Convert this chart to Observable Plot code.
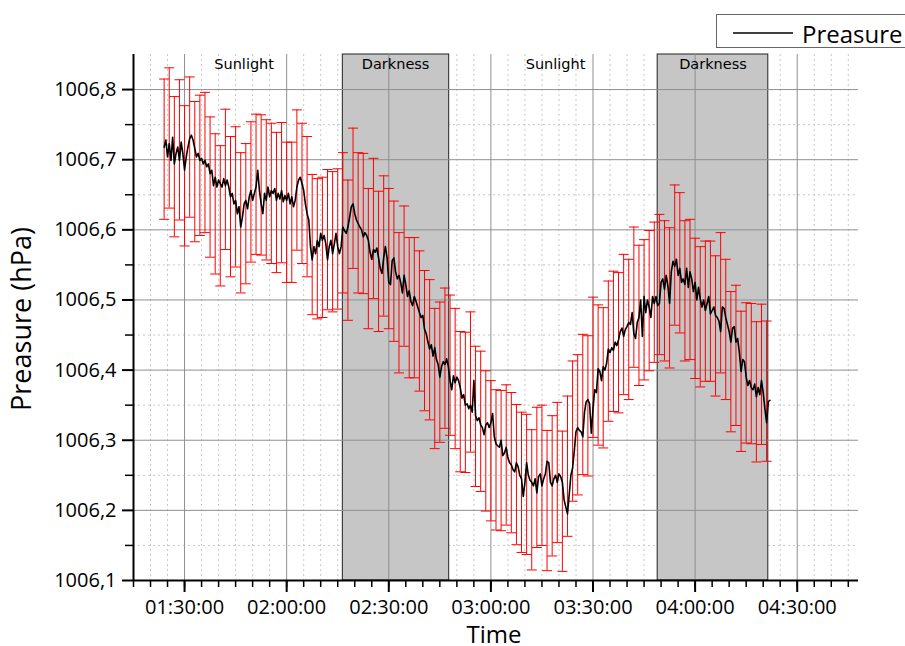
<!DOCTYPE html>
<html>
<head>
<meta charset="utf-8">
<script src="https://cdn.jsdelivr.net/npm/d3@7"></script>
<script src="https://cdn.jsdelivr.net/npm/@observablehq/plot@0.6"></script>
<style>
html, body { margin: 0; padding: 0; background: #fff; overflow: hidden; }
#wrap { position: relative; width: 905px; height: 646px; }
#legend { position: absolute; left: 716px; top: 14px; }
</style>
</head>
<body>
<div id="wrap">
  <div id="chart"></div>
  <svg id="legend" width="220" height="35">
    <rect x="0.5" y="0.5" width="230" height="33" fill="#fff" stroke="#666" stroke-width="1"></rect>
    <line x1="17" y1="19" x2="77" y2="19" stroke="#000" stroke-width="1.3"></line>
    <text id="legendText" x="86" y="28.5" font-family="'Open Sans', sans-serif" font-size="24" fill="#000"></text>
  </svg>
</div>
<script>
// ---------- data ----------
const seriesName = "Preasure";
const xTitle = "Time";
const yTitle = "Preasure (hPa)";

// black line: pressure samples every 30 s starting at 01:24:00
const lineStart = "01:24:00";
const lineStepSeconds = 30;
const pressure = [
1006.718,1006.728,1006.704,1006.723,1006.699,1006.732,1006.694,1006.709,1006.718,1006.699,
1006.725,1006.709,1006.685,1006.704,1006.718,1006.730,1006.735,1006.728,1006.716,1006.704,
1006.709,1006.699,1006.702,1006.694,1006.699,1006.690,1006.694,1006.680,1006.685,1006.663,
1006.675,1006.661,1006.671,1006.666,1006.661,1006.673,1006.663,1006.671,1006.661,1006.647,
1006.652,1006.637,1006.642,1006.623,1006.633,1006.604,1006.618,1006.637,1006.642,1006.630,
1006.647,1006.656,1006.642,1006.652,1006.661,1006.685,1006.656,1006.637,1006.623,1006.652,
1006.642,1006.661,1006.647,1006.656,1006.652,1006.659,1006.642,1006.652,1006.644,1006.656,
1006.640,1006.649,1006.642,1006.652,1006.637,1006.647,1006.633,1006.642,1006.661,1006.671,
1006.675,1006.666,1006.656,1006.637,1006.623,1006.614,1006.576,1006.557,1006.576,1006.566,
1006.585,1006.576,1006.595,1006.585,1006.592,1006.580,1006.557,1006.576,1006.585,1006.566,
1006.580,1006.595,1006.576,1006.566,1006.576,1006.604,1006.599,1006.595,1006.604,1006.618,
1006.633,1006.637,1006.623,1006.614,1006.609,1006.604,1006.600,1006.590,1006.596,1006.592,
1006.585,1006.568,1006.558,1006.572,1006.568,1006.574,1006.560,1006.545,1006.538,1006.560,
1006.576,1006.560,1006.525,1006.522,1006.556,1006.560,1006.540,1006.530,1006.535,1006.525,
1006.510,1006.535,1006.522,1006.505,1006.513,1006.498,1006.492,1006.505,1006.498,1006.490,
1006.482,1006.475,1006.478,1006.458,1006.452,1006.440,1006.430,1006.436,1006.420,1006.432,
1006.415,1006.408,1006.390,1006.405,1006.412,1006.408,1006.416,1006.405,1006.385,1006.372,
1006.392,1006.382,1006.390,1006.385,1006.375,1006.360,1006.365,1006.350,1006.352,1006.345,
1006.350,1006.340,1006.385,1006.335,1006.328,1006.332,1006.322,1006.318,1006.308,1006.322,
1006.325,1006.318,1006.325,1006.338,1006.305,1006.295,1006.292,1006.290,1006.300,1006.278,
1006.282,1006.290,1006.275,1006.268,1006.265,1006.258,1006.255,1006.268,1006.262,1006.250,
1006.245,1006.220,1006.240,1006.268,1006.250,1006.243,1006.240,1006.235,1006.245,1006.225,
1006.248,1006.252,1006.235,1006.245,1006.252,1006.270,1006.268,1006.240,1006.235,1006.245,
1006.250,1006.240,1006.252,1006.248,1006.240,1006.215,1006.205,1006.195,1006.222,1006.250,
1006.260,1006.285,1006.312,1006.318,1006.314,1006.312,1006.305,1006.340,1006.355,1006.358,
1006.352,1006.310,1006.345,1006.372,1006.368,1006.402,1006.398,1006.385,1006.405,1006.400,
1006.410,1006.430,1006.425,1006.432,1006.428,1006.440,1006.435,1006.443,1006.455,1006.460,
1006.448,1006.458,1006.462,1006.468,1006.465,1006.482,1006.452,1006.445,1006.468,1006.475,
1006.500,1006.448,1006.505,1006.482,1006.500,1006.490,1006.475,1006.505,1006.495,1006.505,
1006.492,1006.495,1006.525,1006.530,1006.515,1006.535,1006.520,1006.495,1006.540,1006.555,
1006.548,1006.558,1006.535,1006.545,1006.525,1006.530,1006.522,1006.545,1006.518,1006.540,
1006.530,1006.512,1006.525,1006.500,1006.518,1006.502,1006.490,1006.500,1006.485,1006.495,
1006.505,1006.480,1006.485,1006.490,1006.478,1006.475,1006.470,1006.455,1006.490,1006.488,
1006.475,1006.465,1006.455,1006.440,1006.460,1006.462,1006.440,1006.445,1006.425,1006.398,
1006.415,1006.412,1006.390,1006.378,1006.385,1006.375,1006.372,1006.380,1006.362,1006.375,
1006.365,1006.385,1006.368,1006.345,1006.325,1006.355,1006.357
];

// red error bars: mean every 90 s starting at 01:24:00, +/- barError
const barStart = "01:24:00";
const barStepSeconds = 90;
const barError = 0.1;
const barMean = [
1006.715,1006.731,1006.690,1006.714,1006.677,1006.718,1006.683,1006.692,1006.696,1006.661,
1006.637,1006.620,1006.672,1006.633,1006.647,1006.610,1006.623,1006.654,1006.665,
1006.664,1006.657,1006.652,1006.639,1006.653,1006.625,1006.625,1006.671,1006.652,1006.633,
1006.579,1006.573,1006.575,1006.586,1006.583,1006.587,1006.610,1006.571,1006.645,
1006.610,1006.609,1006.559,1006.602,1006.555,1006.577,1006.559,1006.541,1006.496,1006.534,
1006.489,1006.489,1006.470,1006.442,1006.429,1006.388,1006.397,1006.417,1006.407,1006.388,
1006.355,1006.354,1006.383,1006.334,1006.327,1006.299,1006.285,1006.272,1006.271,1006.279,
1006.268,1006.251,1006.240,1006.237,1006.215,1006.247,1006.250,1006.214,1006.235,1006.254,
1006.213,1006.263,1006.313,1006.322,1006.351,1006.349,1006.404,1006.393,1006.389,1006.427,
1006.441,1006.439,1006.465,1006.458,1006.504,1006.478,1006.486,1006.499,1006.511,
1006.522,1006.513,1006.503,1006.564,1006.553,1006.513,1006.515,1006.488,1006.476,1006.484,
1006.484,1006.463,1006.496,1006.458,1006.412,1006.421,1006.384,1006.396,1006.395,1006.369,
1006.394,1006.370
];

// shaded darkness periods
const darknessStart = ["02:16:30", "03:49:00"];
const darknessEnd   = ["02:47:45", "04:21:30"];

// phase annotations
const phaseText = ["Sunlight", "Darkness", "Sunlight", "Darkness"];
const phaseTime = ["01:47:30", "02:32:00", "03:19:00", "04:05:15"];

// axes
const xDomain = ["01:15:00", "04:48:00"];
const yDomain = [1006.1, 1006.85];
const xMajorTicks = ["01:30:00","02:00:00","02:30:00","03:00:00","03:30:00","04:00:00","04:30:00"];
const yMajorTicks = [1006.1,1006.2,1006.3,1006.4,1006.5,1006.6,1006.7,1006.8];
const yMinorTicks = [1006.15,1006.25,1006.35,1006.45,1006.55,1006.65,1006.75];

// ---------- build ----------
const T = d3.utcParse("%H:%M:%S");
const t0 = T(lineStart);
const lineData = pressure.map((v, i) => ({time: d3.utcSecond.offset(t0, i * lineStepSeconds), value: v}));
const b0 = T(barStart);
const barData = barMean.map((v, i) => ({time: d3.utcSecond.offset(b0, i * barStepSeconds), lo: v - barError, hi: v + barError}));
const darkData = darknessStart.map((s, i) => ({x1: T(s), x2: T(darknessEnd[i])}));
const phaseData = phaseText.map((t, i) => ({text: t, time: T(phaseTime[i])}));
const xd = xDomain.map(T);
const xMajor = xMajorTicks.map(T);
const xMinor = d3.utcMinute.every(5).range(xd[0], d3.utcSecond.offset(xd[1], 1));
const majorSet = new Set(xMajor.map(d => +d));
const xMinorGrid = xMinor.filter(d => !majorSet.has(+d) && +d !== +xd[0]);

const capSymbol = {
  draw(ctx, size) {
    const w = Math.sqrt(size / Math.PI);
    ctx.moveTo(-w, 0);
    ctx.lineTo(w, 0);
  }
};

const red = "#ff0000";
const chart = Plot.plot({
  width: 905,
  height: 646,
  marginLeft: 133,
  marginRight: 47,
  marginTop: 54,
  marginBottom: 66,
  style: {fontFamily: "'Open Sans', sans-serif", fontSize: "20px", color: "#000", background: "transparent"},
  x: {type: "utc", domain: xd, label: null},
  y: {domain: yDomain, label: null},
  marks: [
    Plot.ruleY(yMinorTicks, {stroke: "#c8c8c8", strokeDasharray: "2,3"}),
    Plot.ruleX(xMinorGrid, {stroke: "#c8c8c8", strokeDasharray: "2,3"}),
    Plot.rect(darkData, {x1: "x1", x2: "x2", fill: "#c6c6c6", stroke: "#222", strokeWidth: 1}),
    Plot.ruleY(yMajorTicks.filter(v => v > yDomain[0]), {stroke: "#8f8f8f", strokeWidth: 1}),
    Plot.ruleX(xMajor, {stroke: "#8f8f8f", strokeWidth: 1}),
    Plot.text(phaseData, {x: "time", text: "text", frameAnchor: "top", lineAnchor: "top", dy: 4, fontFamily: "'DejaVu Sans', sans-serif", fontSize: 14.5, fill: "#000"}),
    Plot.ruleX(barData, {x: "time", y1: "lo", y2: "hi", stroke: red, strokeWidth: 1}),
    Plot.dot(barData, {x: "time", y: "lo", symbol: capSymbol, r: 5, stroke: red, strokeWidth: 1, fill: "none"}),
    Plot.dot(barData, {x: "time", y: "hi", symbol: capSymbol, r: 5, stroke: red, strokeWidth: 1, fill: "none"}),
    Plot.line(lineData, {x: "time", y: "value", stroke: "#000", strokeWidth: 1.6}),
    Plot.ruleX([xd[0]], {stroke: "#000", strokeWidth: 2}),
    Plot.ruleY([yDomain[0]], {stroke: "#000", strokeWidth: 2}),
    Plot.axisX({ticks: xMinor, tickSize: 7, tickFormat: () => "", label: null, strokeWidth: 1.5}),
    Plot.axisX({ticks: xMajor, tickSize: 12, tickPadding: 7, tickFormat: d3.utcFormat("%H:%M:%S"), fontSize: 20, label: null, strokeWidth: 2}),
    Plot.axisY({ticks: yMinorTicks, tickSize: 8, tickFormat: () => "", label: null, strokeWidth: 1.5}),
    Plot.axisY({ticks: yMajorTicks, tickSize: 11, tickPadding: 6, tickFormat: d => d.toFixed(1).replace(".", ","), fontSize: 20, label: null, strokeWidth: 2})
  ]
});

const svg = d3.select(chart);
svg.append("text")
  .attr("transform", "translate(31,319) rotate(-90)")
  .attr("text-anchor", "middle")
  .attr("font-family", "'Open Sans', sans-serif")
  .attr("font-size", 27)
  .attr("fill", "#000")
  .text(yTitle);
svg.append("text")
  .attr("x", 494)
  .attr("y", 643)
  .attr("text-anchor", "middle")
  .attr("font-family", "'Open Sans', sans-serif")
  .attr("font-size", 24)
  .attr("fill", "#000")
  .text(xTitle);

document.getElementById("chart").appendChild(chart);
document.getElementById("legendText").textContent = seriesName;
</script>
</body>
</html>
